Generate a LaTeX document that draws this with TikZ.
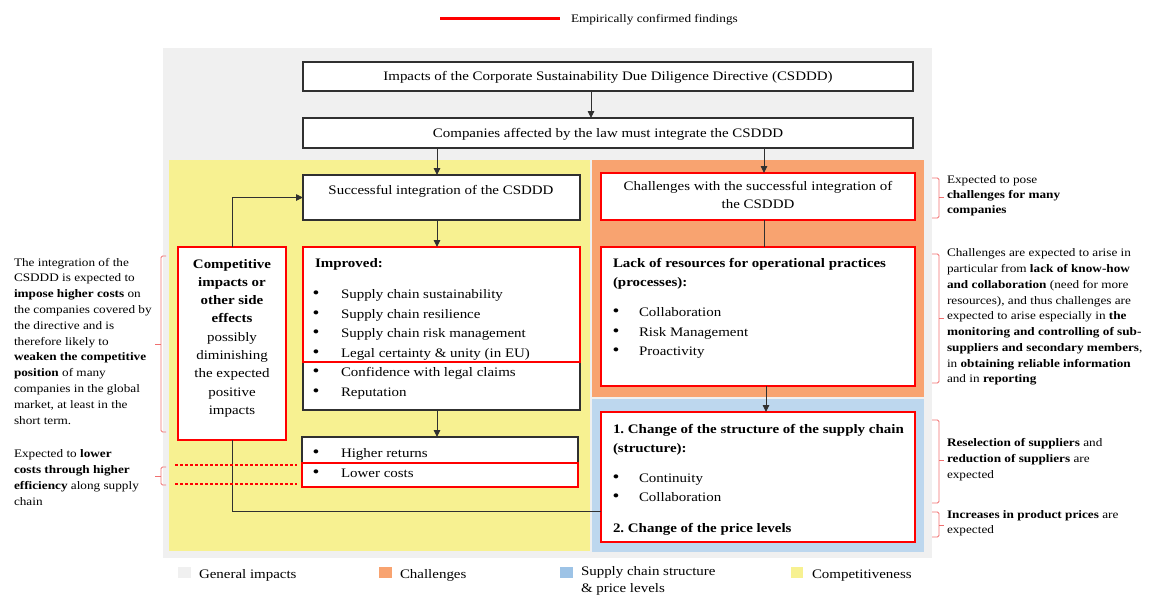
\documentclass[tikz,border=0pt]{standalone}
\usepackage{fontspec}
\setmainfont{Liberation Serif}[FakeStretch=1.15]
\usetikzlibrary{arrows.meta}
\frenchspacing
\definecolor{gbg}{HTML}{F0F0F0}
\definecolor{ybg}{HTML}{F7F191}
\definecolor{obg}{HTML}{F8A370}
\definecolor{bbg}{HTML}{BDD7EE}
\definecolor{lblue}{HTML}{9DC3E6}
\definecolor{rd}{HTML}{FF0000}
\definecolor{bk}{HTML}{303030}
\definecolor{br}{HTML}{F07070}
\begin{document}
\begin{tikzpicture}[x=1pt,y=-1pt,
  every node/.style={font=\fontsize{13}{18}\selectfont, inner sep=0pt, outer sep=0pt},
  side/.style={font=\fontsize{11.5}{15.8}\selectfont},
  blk/.style={draw=bk, line width=1.5pt, fill=white, anchor=north west},
  redbox/.style={draw=rd, line width=2.6pt, anchor=north west},
  arr/.style={-{Triangle[length=7pt,width=6.5pt]}, bk, line width=0.9pt},
  ln/.style={bk, line width=0.9pt},
  brc/.style={br, line width=0.8pt, rounded corners=1.5pt},
  dsh/.style={draw=red, line width=1.1pt, dash pattern=on 3pt off 2pt},
  txt/.style={anchor=base west},
  para/.style={anchor=north west, align=left},
  bul/.style={anchor=base, font=\fontsize{17}{17}\selectfont}]
\useasboundingbox (0,0) rectangle (1152,598);

% top legend
\coordinate (lg1) at (440,18);
\coordinate (lg2) at (560,18);
\draw[rd, line width=3pt] (lg1) -- (lg2);
\node[txt, side] (lgt) at (571,22) {Empirically confirmed findings};

% backgrounds
\fill[gbg] (163,48) rectangle (932,558);
\fill[ybg] (169,160) rectangle (590,551);
\fill[obg] (592,160) rectangle (924,397);
\fill[bbg] (592,399) rectangle (924,552);

% helper coordinates
\coordinate (x591) at (591,0);
\coordinate (x437) at (437,0);
\coordinate (x764) at (764,0);
\coordinate (x766) at (766,0);
\coordinate (y511) at (0,511);

% general boxes
\node[blk, minimum width=610, minimum height=29] (b1) at (303,62) {};
\node (b1t) at ([yshift=-1pt]b1.center) {Impacts of the Corporate Sustainability Due Diligence Directive (CSDDD)};
\node[blk, minimum width=610, minimum height=30] (b2) at (303,118) {};
\node (b2t) at ([yshift=-1pt]b2.center) {Companies affected by the law must integrate the CSDDD};

% competitiveness column
\node[blk, minimum width=277, minimum height=45] (succ) at (303,175) {};
\node[anchor=base] (succt) at (441,194.5) {Successful integration of the CSDDD};

\node[blk, minimum width=277, minimum height=163] (imp) at (303,247) {};
\node[redbox, minimum width=277, minimum height=115] (impr) at (303,247) {};
\node[txt] (impt) at (315,267) {\textbf{Improved:}};
\foreach \yy/\tt [count=\i] in {298.5/Supply chain sustainability,318/Supply chain resilience,337.5/Supply chain risk management,357/Legal certainty \& unity (in EU),376.5/Confidence with legal claims,396/Reputation}{
  \node[bul] (ib\i) at (316,\yy) {•};
  \node[txt] (it\i) at (341,\yy) {\tt};
}

\node[redbox, fill=white, minimum width=108, minimum height=193] (comp) at (178,247) {};
\node[anchor=north, align=center, font=\fontsize{13}{18.3}\selectfont] (compt) at (232,259)
  {\textbf{Competitive}\\\textbf{impacts or}\\\textbf{other side}\\\textbf{effects}\\possibly\\diminishing\\the expected\\positive\\impacts};

\node[blk, minimum width=276, minimum height=50] (ret) at (302,437) {};
\node[redbox, minimum width=276, minimum height=24] (retr) at (302,463) {};
\node[bul] (rb1) at (316,457.5) {•};
\node[txt] (rt1) at (341,457.5) {Higher returns};
\node[bul] (rb2) at (316,477.5) {•};
\node[txt] (rt2) at (341,477.5) {Lower costs};

% challenges column
\node[redbox, fill=white, minimum width=314, minimum height=47] (chal) at (601,173) {};
\node[anchor=north, align=center] (chalt) at (758,181.5) {Challenges with the successful integration of\\the CSDDD};

\node[redbox, fill=white, minimum width=314, minimum height=139] (lack) at (601,247) {};
\node[txt] (lt1) at (613,267.5) {\textbf{Lack of resources for operational practices}};
\node[txt] (lt2) at (613,286.5) {\textbf{(processes):}};
\foreach \yy/\tt [count=\i] in {316.5/Collaboration,336/Risk Management,355.5/Proactivity}{
  \node[bul] (lb\i) at (616,\yy) {•};
  \node[txt] (lx\i) at (639,\yy) {\tt};
}

\node[redbox, fill=white, minimum width=314, minimum height=130] (chg) at (601,412) {};
\node[txt] (ct1) at (613,433.5) {\textbf{1. Change of the structure of the supply chain}};
\node[txt] (ct2) at (613,452.5) {\textbf{(structure):}};
\foreach \yy/\tt [count=\i] in {482.5/Continuity,501.5/Collaboration}{
  \node[bul] (cb\i) at (616,\yy) {•};
  \node[txt] (cx\i) at (639,\yy) {\tt};
}
\node[txt] (ct3) at (613,532.5) {\textbf{2. Change of the price levels}};

% connectors
\draw[arr] (x591 |- b1.south) -- (x591 |- b2.north);
\draw[arr] (x437 |- b2.south) -- (x437 |- succ.north);
\draw[arr] (x764 |- b2.south) -- (x764 |- chal.north);
\draw[arr] (x437 |- succ.south) -- (x437 |- imp.north);
\draw[arr] (x437 |- imp.south) -- (x437 |- ret.north);
\draw[ln] (x764 |- chal.south) -- (x764 |- lack.north);
\draw[arr] (x766 |- lack.south) -- (x766 |- chg.north);
\draw[arr] (comp.north) |- (succ.west);
\draw[ln] (comp.south) |- (y511 -| chg.west);

% dashed lines to lower costs
\coordinate (d1a) at (175,465); \coordinate (d1b) at (297,465);
\coordinate (d2a) at (175,484); \coordinate (d2b) at (297,484);
\draw[dsh] (d1a) -- (d1b);
\draw[dsh] (d2a) -- (d2b);

% left braces
\draw[brc] (166,256) -- (161,256) -- (161,432) -- (166,432);
\draw[br, line width=0.8pt] (161,344) -- (155,344);
\draw[brc] (166,467) -- (161,467) -- (161,485) -- (166,485);
\draw[br, line width=0.8pt] (161,476) -- (155,476);

% right braces
\foreach \a/\b/\m in {178/218/197,254/383/318,420/503/460,512/537/525}{
  \draw[brc] (932,\a) -- (939,\a) -- (939,\b) -- (932,\b);
  \draw[br, line width=0.8pt] (939,\m) -- (944,\m);
}

% left texts
\node[para, side] (lefta) at (14,258) {The integration of the\\CSDDD is expected to\\\textbf{impose higher costs} on\\the companies covered by\\the directive and is\\therefore likely to\\\textbf{weaken the competitive}\\\textbf{position} of many\\companies in the global\\market, at least in the\\short term.};
\node[para, side] (leftb) at (14,450) {Expected to \textbf{lower}\\\textbf{costs through higher}\\\textbf{efficiency} along supply\\chain};

% right texts
\node[para, side, font=\fontsize{11.5}{14.6}\selectfont] (ra) at (947,176) {Expected to pose\\\textbf{challenges for many}\\\textbf{companies}};
\node[para, side, font=\fontsize{11.5}{15.75}\selectfont] (rb) at (947,249) {Challenges are expected to arise in\\particular from \textbf{lack of know-how}\\\textbf{and collaboration} (need for more\\resources), and thus challenges are\\expected to arise especially in \textbf{the}\\\textbf{monitoring and controlling of sub-}\\\textbf{suppliers and secondary members},\\in \textbf{obtaining reliable information}\\and in \textbf{reporting}};
\node[para, side, font=\fontsize{11.5}{16}\selectfont] (rc) at (947,438) {\textbf{Reselection of suppliers} and\\\textbf{reduction of suppliers} are\\expected};
\node[para, side, font=\fontsize{11.5}{14.2}\selectfont] (rd) at (947,511) {\textbf{Increases in product prices} are\\expected};

% bottom legend
\fill[gbg] (178,567) rectangle (191,578);
\node[txt] (lg1t) at (199,578.5) {General impacts};
\fill[obg] (379,567) rectangle (392,578);
\node[txt] (lg2t) at (400,578.5) {Challenges};
\fill[lblue] (560,567) rectangle (573,578);
\node[para, font=\fontsize{13}{17}\selectfont] (lg3t) at (581,566.5) {Supply chain structure\\\& price levels};
\fill[ybg] (791,567) rectangle (803,578);
\node[txt] (lg4t) at (812,578.5) {Competitiveness};
\end{tikzpicture}
\end{document}
